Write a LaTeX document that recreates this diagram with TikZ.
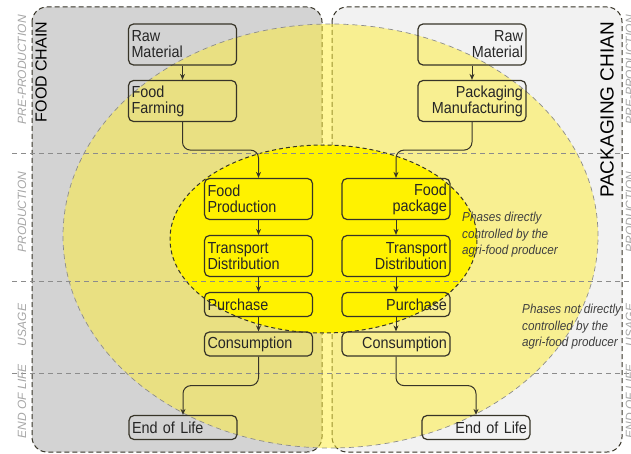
\documentclass[tikz,border=0pt]{standalone}
\usepackage{fontspec}
\setmainfont{Liberation Sans}
\newfontfamily\boxfont[FakeStretch=0.9]{Liberation Sans}
\usetikzlibrary{calc,arrows.meta}
\tikzset{>={Stealth[length=6pt,width=5pt]}}
\definecolor{panelgray}{RGB}{211,211,211}
\definecolor{panellight}{RGB}{242,242,242}
\definecolor{paleyellow}{RGB}{255,238,50}
\definecolor{brightyellow}{RGB}{255,242,0}
\definecolor{linedark}{RGB}{55,52,40}
\tikzset{
  stagebox/.style={draw=linedark,text=black!85,line width=1.2pt,rounded corners=5pt,text width=102pt,inner xsep=3pt,inner ysep=2pt,font=\boxfont\fontsize{16}{16}\selectfont},
  tallbox/.style={stagebox,minimum height=41pt},
  flatbox/.style={stagebox,minimum height=24pt},
  phaselabel/.style={rotate=90,text=black!35,font=\fontsize{12}{12}\selectfont\itshape},
  phaseline/.style={black!45,dash pattern=on 5pt off 4pt,line width=0.7pt},
  chainborder/.style={draw=linedark,dash pattern=on 5pt off 3pt,line width=1pt,rounded corners=15pt},
  flow/.style={->,linedark,line width=1pt,rounded corners=8pt},
  note/.style={anchor=north west,inner sep=0pt,align=left,text=black!75,font=\boxfont\itshape\fontsize{13}{16.5}\selectfont}
}

\begin{document}
\begin{tikzpicture}[x=1pt,y=-1pt]
  \useasboundingbox (0,0) rectangle (631,454);
  \clip (0,0) rectangle (631,454);
  % the two chains
  \filldraw[chainborder,fill=panelgray] (32,7) rectangle (322,452);
  \filldraw[chainborder,fill=panellight] (332,7) rectangle (622,452);
  % phases not directly / directly controlled
  \filldraw[fill=paleyellow,fill opacity=0.5,draw=black!45,dash pattern=on 5pt off 4pt,line width=0.7pt]
    (330.5,236) ellipse [x radius=267.5pt,y radius=212pt];
  \filldraw[fill=brightyellow,draw=linedark,dash pattern=on 4pt off 3pt,line width=1pt]
    (323.5,239) ellipse [x radius=153.5pt,y radius=94pt];
  \foreach \y in {153,281,373}
    \draw[phaseline] (12,\y) -- (631,\y);

  % stage names
  \node[phaselabel] (preL) at (22,70) {PRE-PRODUCTION};
  \node[phaselabel] (prodphL) at (22,212) {PRODUCTION};
  \node[phaselabel] (useL) at (22,325) {USAGE};
  \node[phaselabel] (eolphL) at (22,401) {END OF LIFE};
  \node[phaselabel] (preR) at (630,70) {PRE-PRODUCTION};
  \node[phaselabel] (prodphR) at (630,212) {PRODUCTION};
  \node[phaselabel] (useR) at (630,325) {USAGE};
  \node[phaselabel] (eolphR) at (630,401) {END OF LIFE};
  \node[rotate=90,font=\fontsize{16}{16}\selectfont] (foodchain) at (41,72) {FOOD CHAIN};
  \node[rotate=90,font=\fontsize{19}{19}\selectfont] (packchain) at (607,110) {PACKAGING CHIAN};

  % food chain
  \node[tallbox,align=left] (rawL) at (182.5,44.5) {Raw\\Material};
  \node[tallbox,align=left] (farmL) at (182.5,101) {Food\\Farming};
  \node[tallbox,align=left] (prodL) at (258.5,199) {Food\\Production};
  \node[tallbox,align=left] (transL) at (258.5,256) {Transport\\Distribution};
  \node[flatbox,align=left] (buyL) at (258.5,304.5) {Purchase};
  \node[flatbox,align=left] (consL) at (258.5,344) {Consumption};
  \node[flatbox,align=left] (endL) at (183,427.5) {End of Life};

  % packaging chain
  \node[tallbox,align=right] (rawR) at (472,44.5) {Raw\\Material};
  \node[tallbox,align=right] (manuR) at (472,101) {Packaging\\Manufacturing};
  \node[tallbox,align=right] (packR) at (396,199) {Food\\package};
  \node[tallbox,align=right] (transR) at (396,256) {Transport\\Distribution};
  \node[flatbox,align=right] (buyR) at (396,304.5) {Purchase};
  \node[flatbox,align=right] (consR) at (396,344) {Consumption};
  \node[flatbox,align=right] (endR) at (476,427.5) {End of Life};

  \node[note] (direct) at (462,212) {Phases directly\\controlled by the\\agri-food producer};
  \node[note] (indirect) at (522,304) {Phases not directly\\controlled by the\\agri-food producer};

  \draw[flow] (rawL) -- (farmL);
  \draw[flow] (farmL.south) -- ++(0,28) -| (prodL.north);
  \draw[flow] (prodL) -- (transL);
  \draw[flow] (transL) -- (buyL);
  \draw[flow] (buyL) -- (consL);
  \draw[flow] (consL.south) -- ++(0,29) -| (endL.north);
  \draw[flow] (rawR) -- (manuR);
  \draw[flow] (manuR.south) -- ++(0,28) -| (packR.north);
  \draw[flow] (packR) -- (transR);
  \draw[flow] (transR) -- (buyR);
  \draw[flow] (buyR) -- (consR);
  \draw[flow] (consR.south) -- ++(0,29) -| (endR.north);
\end{tikzpicture}
\end{document}
